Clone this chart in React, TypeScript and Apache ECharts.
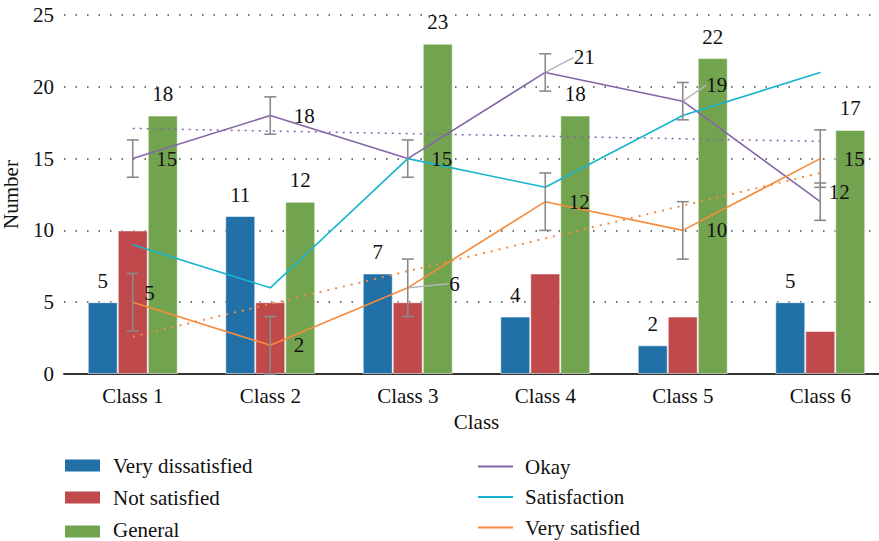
import React, { useEffect, useRef } from "react";
import * as echarts from "echarts";

// Survey counts per class
const classes = ["Class 1", "Class 2", "Class 3", "Class 4", "Class 5", "Class 6"];
const veryDissatisfied = [5, 11, 7, 4, 2, 5];
const notSatisfied = [10, 5, 5, 7, 4, 3];
const general = [18, 12, 23, 18, 22, 17];
const okay = [15, 18, 15, 21, 19, 12];
const satisfaction = [9, 6, 15, 13, 18, 21];
const verySatisfied = [5, 2, 6, 12, 10, 15];

// Error bar half-widths
const okayError = [1.3, 1.3, 1.3, 1.3, 1.3, 1.3];
const verySatisfiedError = [2, 2, 2, 2, 2, 2];

// Linear trend end points (first and last class)
const okayTrend = [17.1, 16.2];
const verySatisfiedTrend = [2.6, 14.0];

// Value axis range
const yMin = 0;
const yMax = 25;
const yStep = 5;

const barNames = ["Very dissatisfied", "Not satisfied", "General"];
const lineNames = ["Okay", "Satisfaction", "Very satisfied"];

const FONT = "Liberation Serif";
const FS = 21;
const COLORS: Record<string, string> = {
  "Very dissatisfied": "#2170a8",
  "Not satisfied": "#c0494b",
  General: "#72a44f",
  Okay: "#8466a8",
  Satisfaction: "#17b4cf",
  "Very satisfied": "#f68b3c",
};
const ERROR_COLOR = "#8a8a8a";

// Label nudges for crowded points (dx, dy in px)
const okayLabelNudge: Record<number, [number, number]> = {
  3: [5, -15],
  4: [0, -16],
  5: [-15, -10],
};
const verySatisfiedLabelNudge: Record<number, [number, number]> = {
  0: [-12, -9],
  2: [18, -4],
};
const okayLeader = [3, 4];
const verySatisfiedLeader = [2];

function errorSeries(values: number[], errors: number[]) {
  return {
    type: "custom",
    silent: true,
    z: 5,
    data: values.map((v, i) => [i, v - errors[i], v + errors[i]]),
    renderItem: (params: any, api: any) => {
      const lo = api.coord([api.value(0), api.value(1)]);
      const hi = api.coord([api.value(0), api.value(2)]);
      const half = 6;
      const style = { stroke: ERROR_COLOR, lineWidth: 1.6 };
      return {
        type: "group",
        children: [
          { type: "line", shape: { x1: lo[0], y1: lo[1], x2: hi[0], y2: hi[1] }, style },
          { type: "line", shape: { x1: lo[0] - half, y1: lo[1], x2: lo[0] + half, y2: lo[1] }, style },
          { type: "line", shape: { x1: hi[0] - half, y1: hi[1], x2: hi[0] + half, y2: hi[1] }, style },
        ],
      };
    },
  };
}

function lineData(values: number[], leaders: number[]) {
  return values.map((v, i) =>
    leaders.includes(i)
      ? { value: v, labelLine: { show: true, lineStyle: { color: "#b5b5b5", width: 1.5 } } }
      : v
  );
}

// Two-column key below the plot: swatches for bars, strokes for lines
function legendGraphics() {
  const items: any[] = [];
  const textStyle = {
    font: `${FS}px "${FONT}", serif`,
    fontFamily: FONT,
    fontSize: FS,
    fill: "#111",
    verticalAlign: "middle",
  };
  barNames.forEach((name, i) => {
    const cy = 465.5 + i * 32;
    items.push({
      type: "rect",
      shape: { x: 65, y: cy - 6 + (i === 2 ? 2 : 0), width: 35, height: 12 },
      style: { fill: COLORS[name] },
    });
    items.push({ type: "text", x: 113, y: cy, style: { ...textStyle, text: name } });
  });
  lineNames.forEach((name, i) => {
    const cy = 466.5 + i * 30.5;
    items.push({
      type: "line",
      shape: { x1: 478, y1: cy, x2: 513, y2: cy },
      style: { stroke: COLORS[name], lineWidth: 1.8 },
    });
    items.push({ type: "text", x: 525, y: cy, style: { ...textStyle, text: name } });
  });
  return items;
}

export default function App() {
  const ref = useRef<HTMLDivElement>(null);

  useEffect(() => {
    if (!ref.current) return;
    const chart = echarts.init(ref.current, undefined, { renderer: "svg" });

    const txt = { fontFamily: FONT, fontSize: FS, color: "#111" };
    const barBase = {
      type: "bar",
      barWidth: 30,
      barGap: "0%",
      itemStyle: { borderColor: "rgba(255,255,255,0.55)", borderWidth: 1 },
    };
    const barLabel = { show: true, position: "top", distance: 11, ...txt };
    const lineLabel = {
      show: true,
      position: "right",
      distance: 23,
      offset: [0, 4],
      ...txt,
    };
    const lineBase = {
      type: "line",
      symbol: "circle",
      symbolSize: 1,
      showSymbol: true,
      z: 4,
    };

    chart.setOption({
      animation: false,
      textStyle: { fontFamily: FONT },
      grid: {
        left: 64,
        right: -10,
        top: 15,
        bottom: 167,
        containLabel: false,
        outerBoundsMode: "none",
      },
      graphic: legendGraphics(),
      xAxis: {
        type: "category",
        data: classes,
        name: "Class",
        nameLocation: "middle",
        nameGap: 37,
        nameTextStyle: txt,
        axisLine: { lineStyle: { color: "#333", width: 2 } },
        axisTick: { show: false },
        axisLabel: { ...txt, margin: 11 },
      },
      yAxis: {
        type: "value",
        min: yMin,
        max: yMax,
        interval: yStep,
        name: "Number",
        nameLocation: "middle",
        nameGap: 43,
        nameTextStyle: txt,
        axisLine: { show: false },
        axisTick: { show: false },
        axisLabel: { ...txt, margin: 10 },
        splitLine: { lineStyle: { color: "#444", type: [1.5, 10], width: 1.5 } },
      },
      series: [
        {
          ...barBase,
          name: barNames[0],
          data: veryDissatisfied,
          color: COLORS[barNames[0]],
          label: barLabel,
        },
        {
          ...barBase,
          name: barNames[1],
          data: notSatisfied,
          color: COLORS[barNames[1]],
        },
        {
          ...barBase,
          name: barNames[2],
          data: general,
          color: COLORS[barNames[2]],
          label: barLabel,
        },
        {
          ...lineBase,
          name: lineNames[0],
          data: lineData(okay, okayLeader),
          color: COLORS[lineNames[0]],
          lineStyle: { width: 1.6, color: COLORS[lineNames[0]] },
          label: lineLabel,
          labelLine: { show: false },
          labelLayout: (p: any) => {
            const n = okayLabelNudge[p.dataIndex];
            return n ? { dx: n[0], dy: n[1] } : {};
          },
        },
        {
          ...lineBase,
          name: lineNames[1],
          data: satisfaction,
          color: COLORS[lineNames[1]],
          lineStyle: { width: 1.6, color: COLORS[lineNames[1]] },
        },
        {
          ...lineBase,
          name: lineNames[2],
          data: lineData(verySatisfied, verySatisfiedLeader),
          color: COLORS[lineNames[2]],
          lineStyle: { width: 1.6, color: COLORS[lineNames[2]] },
          label: lineLabel,
          labelLine: { show: false },
          labelLayout: (p: any) => {
            const n = verySatisfiedLabelNudge[p.dataIndex];
            return n ? { dx: n[0], dy: n[1] } : {};
          },
        },
        {
          type: "line",
          name: "Okay trend",
          data: [
            [0, okayTrend[0]],
            [classes.length - 1, okayTrend[1]],
          ],
          symbol: "none",
          silent: true,
          z: 3,
          lineStyle: { width: 1.5, color: COLORS.Okay, type: [2, 5] },
        },
        {
          type: "line",
          name: "Very satisfied trend",
          data: [
            [0, verySatisfiedTrend[0]],
            [classes.length - 1, verySatisfiedTrend[1]],
          ],
          symbol: "none",
          silent: true,
          z: 3,
          lineStyle: { width: 2, color: COLORS["Very satisfied"], type: [2, 6] },
        },
        errorSeries(okay, okayError),
        errorSeries(verySatisfied, verySatisfiedError),
      ],
    });

    return () => chart.dispose();
  }, []);

  return (
    <div
      ref={ref}
      style={{ position: "fixed", left: 0, top: 0, width: 879, height: 541, background: "#fff" }}
    />
  );
}
